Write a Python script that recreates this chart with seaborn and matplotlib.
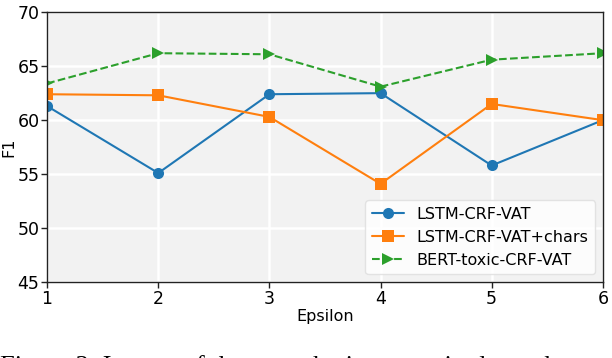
import numpy as np
import pandas as pd
import matplotlib
matplotlib.use("Agg")
import matplotlib.pyplot as plt
import seaborn as sns

# --- dados ---
epsilon = [1, 2, 3, 4, 5, 6]
lstm_vat = [61.3, 55.1, 62.4, 62.5, 55.8, 60.0]
lstm_vat_chars = [62.4, 62.3, 60.3, 54.1, 61.5, 60.0]
bert_vat = [63.4, 66.2, 66.1, 63.1, 65.6, 66.2]

series = ["LSTM-CRF-VAT", "LSTM-CRF-VAT+chars", "BERT-toxic-CRF-VAT"]

df = pd.DataFrame({
    "Epsilon": epsilon * 3,
    "F1": lstm_vat + lstm_vat_chars + bert_vat,
    "Modelo": [s for s in series for _ in epsilon],
})

sns.set_style("darkgrid", {
    "axes.facecolor": "#f2f2f2",
    "grid.color": "white",
    "axes.edgecolor": "#222222",
    "xtick.bottom": True,
    "ytick.left": True,
    "text.color": "black",
    "axes.labelcolor": "black",
    "xtick.color": "black",
    "ytick.color": "black",
})
plt.rcParams["font.family"] = ["DejaVu Sans"]
plt.rcParams["grid.linewidth"] = 1.8

fig, ax = plt.subplots(figsize=(6.12, 3.58), dpi=100)
fig.subplots_adjust(left=0.077, right=0.985, top=0.966, bottom=0.212)

cores = ["#1f77b4", "#ff7f0e", "#2ca02c"]
marcadores = ["o", "s", ">"]
estilos = ["-", "-", "--"]
tamanhos = [8, 8, 9]

for nome, cor, m, ls, ms in zip(series, cores, marcadores, estilos, tamanhos):
    d = df[df["Modelo"] == nome]
    sns.lineplot(data=d, x="Epsilon", y="F1", ax=ax, color=cor, marker=m,
                 markersize=ms, markeredgewidth=0, linestyle=ls, linewidth=1.5,
                 label=nome)

ax.set_xlim(1, 6)
ax.set_ylim(45, 70)
ax.set_xticks(epsilon)
ax.set_yticks([45, 50, 55, 60, 65, 70])
ax.tick_params(axis="both", labelsize=12.5, length=4, width=1, color="#222222", pad=1.5)
ax.set_xlabel("Epsilon", fontsize=11.5, labelpad=1)
ax.set_ylabel("F1", fontsize=11.5)
ax.yaxis.set_label_coords(-0.056, 0.5)
for s in ax.spines.values():
    s.set_visible(True)
    s.set_linewidth(1)

ax.legend(loc="lower right", fontsize=11.5, frameon=True, facecolor="white",
          framealpha=0.8, edgecolor="#dddddd", borderaxespad=0.5)

# legenda da figura (cortada na parte de baixo, como no original)
fig.text(0.0, 0.009, "Figure 3: Impact of the perturbation magnitude on the",
         fontsize=19, family="Liberation Serif", va="top", ha="left")

fig.savefig("out.png", dpi=100)
